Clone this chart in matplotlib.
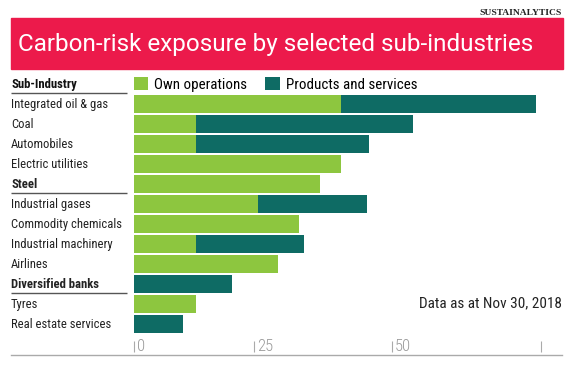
#!/usr/bin/env python3
"""
Carbon-risk exposure by selected sub-industries (Sustainalytics).
Stacked horizontal bars: own operations vs products and services.
"""

import matplotlib.pyplot as plt
import matplotlib.transforms as mtrans

# --- Data ---
industries = ["Integrated oil & gas", "Coal", "Automobiles", "Electric utilities",
              "Steel", "Industrial gases", "Commodity chemicals", "Industrial machinery",
              "Airlines", "Diversified banks", "Tyres", "Real estate services"]
bold_rows = ["Steel", "Diversified banks"]
own_ops = [40.1, 12.1, 12.1, 40.1, 36.0, 24.0, 32.0, 12.1, 28.0, 0.0, 12.0, 0.0]
products = [37.8, 42.0, 33.4, 0.0, 0.0, 21.1, 0.0, 20.9, 0.0, 18.9, 0.0, 9.4]

tick_pos = [0, 23.3, 50, 78.9]
tick_labels = ["0", "25", "50", ""]

green = "#8dc63f"
teal = "#0e6b64"
red = "#ec1a4b"
narrow = ["Roboto Condensed", "Liberation Sans", "DejaVu Sans"]

W, H = 571, 368
fig = plt.figure(figsize=(W / 100, H / 100), dpi=100)
fig.patch.set_facecolor("white")


def fx(px):
    return px / W


def fy(py):
    return 1 - py / H


# --- Header band ---
fig.patches.append(plt.Rectangle((fx(11), fy(68.5)), fx(551.5), (68.5 - 18) / H,
                                 transform=fig.transFigure, color=red, zorder=0))
fig.text(fx(17.5), fy(44), "Carbon-risk exposure by selected sub-industries",
         color="white", fontsize=17.5, family=["Roboto", "DejaVu Sans"],
         va="center", ha="left")
fig.text(fx(562), fy(13), "SUSTAINALYTICS", color="#222222", fontsize=6.8,
         family=["Liberation Serif", "DejaVu Serif"], fontweight="bold",
         va="center", ha="right")

# --- Bars ---
scale = 5.16  # pixels per unit
x0, x1 = 134, 562
ax = fig.add_axes([fx(x0), fy(334), fx(x1 - x0), (334 - 94) / H])
ypos = list(range(len(industries)))
ax.barh(ypos, own_ops, height=0.88, color=green, label="Own operations")
ax.barh(ypos, products, left=own_ops, height=0.88, color=teal, label="Products and services")
ax.set_xlim(0, (x1 - x0) / scale)
ax.set_ylim(len(industries) - 0.5, -0.5)
ax.axis("off")

# labels in the left column
tr = mtrans.blended_transform_factory(fig.transFigure, ax.transData)
ax.text(fx(11), -1, "Sub-Industry", transform=tr, fontsize=9.2, family=narrow,
        fontweight="bold", color="#111111", va="center", ha="left", clip_on=False)
for i, name in enumerate(industries):
    ax.text(fx(11), i, name, transform=tr, fontsize=9.1, family=narrow,
            fontweight="bold" if name in bold_rows else "normal",
            color="#222222", va="center", ha="left", clip_on=False)

# separator lines under the bold rows
for row in [-1] + [industries.index(b) for b in bold_rows]:
    ax.plot([fx(11), fx(127)], [row + 0.47, row + 0.47], transform=tr,
            color="#555555", lw=1, clip_on=False, solid_capstyle="butt")

ax.legend(loc="center left", bbox_to_anchor=(0, 1.04), ncol=2, frameon=False,
          borderaxespad=0, borderpad=0, handlelength=0.95, handleheight=1.0,
          handletextpad=0.4, columnspacing=1.2,
          prop={"family": narrow, "size": 10.8})

ax.text(1.0, 9.95, "Data as at Nov 30, 2018", transform=mtrans.blended_transform_factory(
    ax.transAxes, ax.transData), fontsize=11, family=narrow, color="#222222",
    ha="right", va="center")

# --- Bottom axis ---
left_px = 11
axb = fig.add_axes([fx(left_px), fy(355), fx(x1 - left_px), (355 - 341) / H])
axb.set_xlim((left_px - x0) / scale, (x1 - x0) / scale)
axb.set_ylim(0, 1)
for s in ["top", "left", "right"]:
    axb.spines[s].set_visible(False)
axb.spines["bottom"].set_color("#aaaaaa")
axb.spines["bottom"].set_linewidth(1)
axb.set_yticks([])
axb.xaxis.set_ticks_position("top")
axb.set_xticks(tick_pos)
axb.tick_params(axis="x", direction="in", length=8, width=0.8, color="#aaaaaa",
                labeltop=False, labelbottom=False)
for p, lab in zip(tick_pos, tick_labels):
    axb.text(p + 0.6, 0.58, lab, fontsize=12, family=narrow, fontweight="light",
             color="#999999", ha="left", va="center")
axb.patch.set_alpha(0)

fig.savefig("out.png", dpi=100)
